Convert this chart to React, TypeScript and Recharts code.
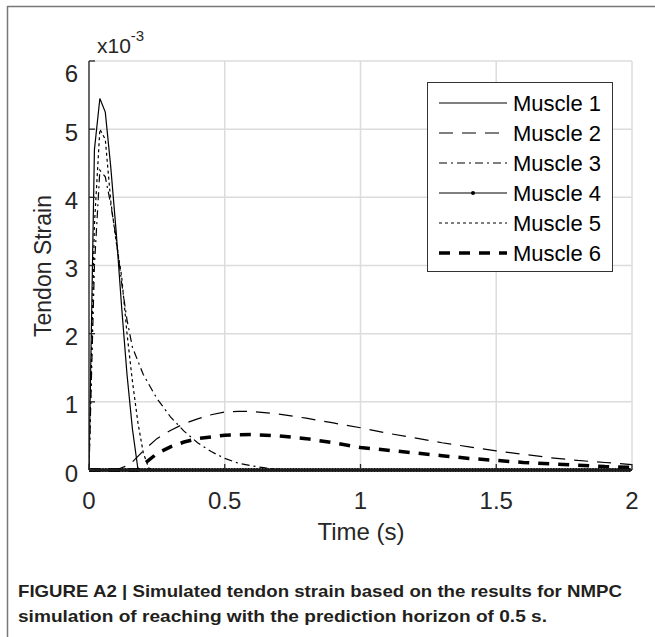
import React from 'react';
import { LineChart, Line, XAxis, YAxis, CartesianGrid, Legend } from 'recharts';

// Values of tendon strain are in units of 1e-3 (axis exponent x10^-3)
const xTicks = [0, 0.5, 1, 1.5, 2];
const yTicks = [0, 1, 2, 3, 4, 5, 6];
const muscleNames = ['Muscle 1', 'Muscle 2', 'Muscle 3', 'Muscle 4', 'Muscle 5', 'Muscle 6'];

const m1Time = [0, 0.02, 0.04, 0.06, 0.08, 0.1, 0.12, 0.14, 0.16, 0.18, 0.2, 2.0];
const m1Strain = [0, 4.7, 5.45, 5.25, 4.45, 3.5, 2.4, 1.4, 0.6, 0.02, 0, 0];

const m2Time = [0, 0.1, 0.15, 0.2, 0.25, 0.3, 0.35, 0.4, 0.45, 0.5, 0.55, 0.6, 0.7, 0.8, 0.9, 1.0, 1.1, 1.2, 1.3, 1.4, 1.5, 1.6, 1.7, 1.8, 1.9, 2.0];
const m2Strain = [0, 0, 0.08, 0.28, 0.46, 0.58, 0.68, 0.75, 0.81, 0.85, 0.86, 0.86, 0.82, 0.76, 0.69, 0.62, 0.54, 0.47, 0.4, 0.34, 0.28, 0.23, 0.18, 0.14, 0.11, 0.08];

const m3Time = [0, 0.02, 0.04, 0.06, 0.08, 0.1, 0.12, 0.14, 0.16, 0.2, 0.25, 0.3, 0.35, 0.4, 0.45, 0.5, 0.55, 0.6, 0.65, 0.7, 0.75, 2.0];
const m3Strain = [0, 3.0, 4.4, 4.3, 3.9, 3.4, 2.75, 2.2, 1.8, 1.4, 1.05, 0.78, 0.57, 0.4, 0.27, 0.17, 0.1, 0.06, 0.03, 0.01, 0, 0];

const m4Time = [0, 2.0];
const m4Strain = [0, 0];

const m5Time = [0, 0.02, 0.04, 0.06, 0.08, 0.1, 0.12, 0.14, 0.16, 0.18, 0.2, 0.22, 0.24, 2.0];
const m5Strain = [0, 3.6, 5.0, 4.85, 3.95, 3.35, 2.85, 2.0, 1.3, 0.7, 0.25, 0.03, 0, 0];

const m6Time = [0, 0.18, 0.2, 0.25, 0.3, 0.35, 0.4, 0.5, 0.6, 0.7, 0.8, 0.9, 1.0, 1.1, 1.2, 1.3, 1.4, 1.5, 1.6, 1.7, 1.8, 1.9, 2.0];
const m6Strain = [0, 0, 0.08, 0.24, 0.34, 0.41, 0.46, 0.51, 0.52, 0.5, 0.46, 0.4, 0.33, 0.29, 0.25, 0.21, 0.17, 0.14, 0.11, 0.09, 0.07, 0.05, 0.04];

const toPoints = (ts: number[], vs: number[]) => ts.map((t, i) => ({ t, v: vs[i] }));

const series = [
  { name: muscleNames[0], data: toPoints(m1Time, m1Strain), width: 1.2, dash: undefined as string | undefined },
  { name: muscleNames[1], data: toPoints(m2Time, m2Strain), width: 1.2, dash: '14 9' },
  { name: muscleNames[2], data: toPoints(m3Time, m3Strain), width: 1.2, dash: '8 4 2 4' },
  { name: muscleNames[4], data: toPoints(m5Time, m5Strain), width: 1.2, dash: '3 3' },
  { name: muscleNames[5], data: toPoints(m6Time, m6Strain), width: 3.5, dash: '11 9' },
];
const m4Data = toPoints(m4Time, m4Strain);

const FONT = '"Liberation Sans", Arial, Helvetica, sans-serif';
const AXIS = '#262626';

const legendStyles = [
  { w: 1.2, dash: undefined as string | undefined, marker: false },
  { w: 1.2, dash: '14 9', marker: false },
  { w: 1.2, dash: '8 4 2 4', marker: false },
  { w: 1.2, dash: undefined, marker: true },
  { w: 1.2, dash: '3 3', marker: false },
  { w: 3.5, dash: '11 9', marker: false },
];

const LegendBox = () => (
  <svg width={186} height={190} style={{ display: 'block' }}>
    <rect x={0.5} y={0.5} width={185} height={189} fill="#fff" stroke="#333" strokeWidth={1} />
    {muscleNames.map((n, i) => {
      const y = 21 + 30 * i;
      const s = legendStyles[i];
      return (
        <g key={n}>
          <line x1={12} x2={80} y1={y} y2={y} stroke="#000" strokeWidth={s.w} strokeDasharray={s.dash} />
          {s.marker && <circle cx={46} cy={y} r={2} fill="#000" />}
          <text x={86} y={y} dominantBaseline="central" fontSize={22} fontFamily={FONT} fill="#000">{n}</text>
        </g>
      );
    })}
  </svg>
);

const YTick = (props: any) => {
  const { x, y, payload } = props;
  const shift = payload.value === 6 ? 12 : 3;
  return (
    <text x={x} y={y + shift} dy="0.36em" textAnchor="end" fontSize={24} fontFamily={FONT} fill={AXIS}>
      {payload.value}
    </text>
  );
};

export default function App() {
  return (
    <div style={{ position: 'absolute', left: 0, top: 0, width: 655, height: 637, background: '#fff' }}>
      <LineChart width={655} height={637} margin={{ top: 61, right: 23, bottom: 127, left: 29 }}>
        <CartesianGrid xAxisId="bottom" yAxisId="left" stroke="#dcdcdc" strokeWidth={1.5} />
        <XAxis xAxisId="bottom" type="number" dataKey="t" domain={[0, 2]} ticks={xTicks} height={40}
          allowDataOverflow stroke={AXIS} tickSize={-6} tickMargin={28}
          tick={{ fontSize: 24, fontFamily: FONT, fill: AXIS }} axisLine={{ stroke: AXIS, strokeWidth: 1.3 }}
          tickLine={{ stroke: AXIS, strokeWidth: 1.3 }} />
        <XAxis xAxisId="top" orientation="top" type="number" dataKey="t" domain={[0, 2]} ticks={xTicks} height={0}
          tick={false} tickSize={-6} axisLine={{ stroke: AXIS, strokeWidth: 1.3 }} tickLine={{ stroke: AXIS, strokeWidth: 1.3 }} />
        <YAxis yAxisId="left" type="number" domain={[0, 6]} ticks={yTicks} width={60} tickSize={-6} tickMargin={17}
          tick={<YTick />} axisLine={{ stroke: AXIS, strokeWidth: 1.3 }}
          tickLine={{ stroke: AXIS, strokeWidth: 1.3 }} />
        <YAxis yAxisId="right" orientation="right" type="number" domain={[0, 6]} ticks={yTicks} width={0}
          tick={false} tickSize={-6} axisLine={{ stroke: AXIS, strokeWidth: 1.3 }} tickLine={{ stroke: AXIS, strokeWidth: 1.3 }} />
        {series.map((s) => (
          <Line key={s.name} xAxisId="bottom" yAxisId="left" data={s.data} dataKey="v" name={s.name}
            type="linear" stroke="#000" strokeWidth={s.width} strokeDasharray={s.dash} dot={false}
            isAnimationActive={false} />
        ))}
        <Line xAxisId="bottom" yAxisId="left" data={m4Data} dataKey="v" name={muscleNames[3]} type="linear"
          stroke="#000" strokeWidth={1.3} dot={false} isAnimationActive={false} />
        <Line xAxisId="bottom" yAxisId="left" data={m4Data} dataKey="v" name="Muscle 4 markers" legendType="none"
          type="linear" stroke="#000" strokeWidth={4} strokeDasharray="0 2.8" strokeLinecap="round" dot={false}
          isAnimationActive={false} />
        <Legend layout="vertical" align="center" verticalAlign="middle" content={() => <LegendBox />}
          wrapperStyle={{ left: 427, top: 82, width: 186, height: 190 }} />
      </LineChart>
      <svg width={655} height={637} style={{ position: 'absolute', left: 0, top: 0, pointerEvents: 'none' }}>
        <line x1={7.5} y1={6} x2={7.5} y2={637} stroke="#777" strokeWidth={1.5} />
        <line x1={7} y1={6.5} x2={655} y2={6.5} stroke="#777" strokeWidth={1.5} />
        <text x={97} y={53} fontSize={21} fontFamily={FONT} fill={AXIS}>x10<tspan dy={-12} fontSize={15}>-3</tspan></text>
        <text transform="translate(51,266) rotate(-90)" textAnchor="middle" fontSize={23} fontFamily={FONT} fill={AXIS}>Tendon Strain</text>
        <text x={361} y={540} textAnchor="middle" fontSize={24} fontFamily={FONT} fill={AXIS}>Time (s)</text>
        <text x={18} y={597} fontSize={17} fontWeight="bold" fontFamily={'"Liberation Sans Narrow", ' + FONT} fill="#231f20"
          textLength={604} lengthAdjust="spacingAndGlyphs">FIGURE A2 | Simulated tendon strain based on the results for NMPC</text>
        <text x={18} y={622} fontSize={17} fontWeight="bold" fontFamily={'"Liberation Sans Narrow", ' + FONT} fill="#231f20"
          textLength={529} lengthAdjust="spacingAndGlyphs">simulation of reaching with the prediction horizon of 0.5 s.</text>
      </svg>
    </div>
  );
}
